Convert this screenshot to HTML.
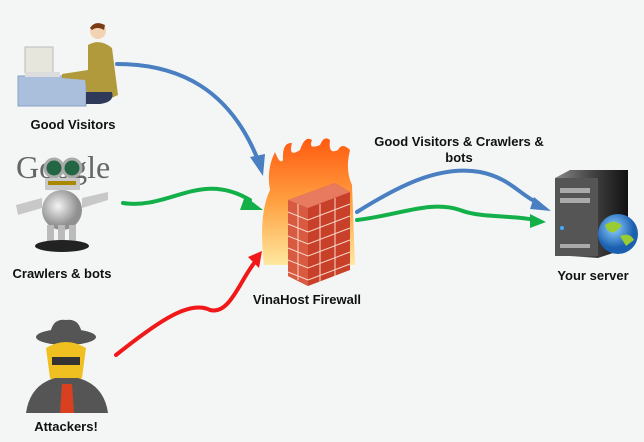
<!DOCTYPE html>
<html><head><meta charset="utf-8"><style>
html,body{margin:0;padding:0;background:#f4f6f6;}
svg{display:block;font-family:"Liberation Sans",Arial,sans-serif;}
</style></head><body>
<svg width="644" height="442" viewBox="0 0 644 442">
<defs>
<linearGradient id="srv" x1="0" x2="1"><stop offset="0" stop-color="#888"/><stop offset="0.5" stop-color="#444"/><stop offset="1" stop-color="#111"/></linearGradient>
<radialGradient id="glb" cx="0.4" cy="0.35"><stop offset="0" stop-color="#8fd0ff"/><stop offset="1" stop-color="#1a5fb0"/></radialGradient>
<linearGradient id="fl" x1="0" y1="1" x2="0" y2="0"><stop offset="0" stop-color="#ffe8a0"/><stop offset="0.5" stop-color="#ffa040"/><stop offset="1" stop-color="#ff5a10"/></linearGradient>
<radialGradient id="rb" cx="0.4" cy="0.4"><stop offset="0" stop-color="#f4f4f4"/><stop offset="1" stop-color="#909090"/></radialGradient>
</defs>
<!-- good visitor -->
<rect x="18" y="76" width="68" height="30" fill="#a9bfdc" stroke="#8aa2c4"/>
<rect x="25" y="47" width="28" height="26" fill="#e6e6dc" stroke="#bbb"/>
<rect x="25" y="72" width="35" height="5" fill="#ddd"/>
<circle cx="98" cy="31" r="8" fill="#f4d2b4"/>
<path d="M90 28 Q95 20 105 25 L104 30 Q97 26 92 30Z" fill="#7a3b14"/>
<path d="M88 45 Q100 38 112 48 L118 95 Q105 102 88 100 L85 80 L62 78 L62 74 L88 70Z" fill="#b19a3b"/>
<path d="M86 92 L112 92 Q115 102 100 104 L86 104Z" fill="#2f3a5a"/>
<text x="73" y="129" font-size="13" font-weight="bold" text-anchor="middle" fill="#111">Good Visitors</text>
<!-- google robot -->
<text x="16" y="178" font-size="32" font-family="Liberation Serif,serif" fill="#666">Google</text>
<circle cx="54" cy="168" r="9" fill="#264" stroke="#aaa" stroke-width="3"/>
<circle cx="72" cy="168" r="9" fill="#264" stroke="#aaa" stroke-width="3"/>
<rect x="45" y="178" width="35" height="12" fill="#c9c9c9"/>
<rect x="48" y="181" width="28" height="4" fill="#a80"/>
<ellipse cx="62" cy="210" rx="20" ry="20" fill="url(#rb)"/>
<path d="M16 205 L42 198 L42 208 L18 215Z M82 198 L108 192 L108 200 L82 208Z" fill="#c8c8c8"/>
<rect x="47" y="225" width="7" height="20" fill="#bbb"/><rect x="58" y="225" width="7" height="20" fill="#bbb"/><rect x="69" y="225" width="7" height="20" fill="#bbb"/>
<ellipse cx="62" cy="246" rx="27" ry="6" fill="#222"/>
<text x="62" y="278" font-size="13" font-weight="bold" text-anchor="middle" fill="#111">Crawlers &amp; bots</text>
<!-- attacker -->
<ellipse cx="66" cy="337" rx="30" ry="8" fill="#555"/>
<path d="M50 335 Q52 318 66 320 Q80 318 82 335Z" fill="#555"/>
<path d="M46 348 Q66 336 86 348 L82 378 Q66 392 50 378Z" fill="#f0c020"/>
<rect x="52" y="357" width="28" height="8" fill="#333"/>
<path d="M26 413 Q30 385 55 378 L78 378 Q104 385 108 413Z" fill="#555"/>
<path d="M62 384 L72 384 L74 413 L60 413Z" fill="#d84020"/>
<text x="66" y="431" font-size="13" font-weight="bold" text-anchor="middle" fill="#111">Attackers!</text>
<!-- firewall -->
<path d="M264 265 Q258 215 270 190 Q266 170 275 152 Q280 165 283 160 Q282 142 292 143 Q288 158 300 150 Q305 135 312 140 Q308 150 320 145 Q324 135 330 140 Q328 155 338 150 Q342 142 350 150 Q345 170 352 185 L355 265Z" fill="url(#fl)"/>
<path d="M288 200 L335 183 L350 192 L350 270 L308 286 L288 276Z" fill="#c8402a"/>
<path d="M288 200 L308 208 L308 286 L288 276Z" fill="#d85a40"/>
<path d="M288 200 L335 183 L350 192 L308 208Z" fill="#e87a60"/>
<g stroke="#f8d8c8" stroke-width="1" fill="none">
<path d="M288 212 L308 220 L350 204 M288 224 L308 232 L350 216 M288 236 L308 244 L350 228 M288 248 L308 256 L350 240 M288 260 L308 268 L350 252 M288 272 L308 280 L350 264"/>
<path d="M298 204 L298 280 M320 204 L320 282 M335 198 L335 276"/>
</g>
<text x="307" y="304" font-size="13" font-weight="bold" text-anchor="middle" fill="#111">VinaHost Firewall</text>
<!-- server -->
<path d="M555 178 L570 170 L628 170 L628 248 L598 258 L555 255Z" fill="url(#srv)"/>
<rect x="555" y="178" width="43" height="78" fill="#555"/>
<rect x="560" y="188" width="30" height="5" fill="#aaa"/><rect x="560" y="198" width="30" height="5" fill="#aaa"/><rect x="560" y="244" width="30" height="4" fill="#aaa"/>
<circle cx="562" cy="228" r="2" fill="#4af"/>
<circle cx="618" cy="234" r="20" fill="url(#glb)"/>
<path d="M605 225 Q615 218 622 226 L615 232 Q608 234 605 225Z M620 236 Q630 232 634 240 L626 246Z" fill="#9c3"/>
<text x="593" y="280" font-size="13" font-weight="bold" text-anchor="middle" fill="#111">Your server</text>
<text x="459" y="146" font-size="13" font-weight="bold" text-anchor="middle" fill="#111">Good Visitors &amp; Crawlers &amp;</text>
<text x="459" y="162" font-size="13" font-weight="bold" text-anchor="middle" fill="#111">bots</text>
<!-- arrows -->
<g fill="none" stroke-width="4" stroke-linecap="round">
<path d="M117 64 C180 64 230 90 258 160" stroke="#4a7fc2"/>
<path d="M123 203 C170 210 200 170 250 200" stroke="#13b04a"/>
<path d="M116 355 C160 320 190 300 210 310 C230 315 240 280 255 262" stroke="#f01818"/>
<path d="M357 212 C400 185 440 165 480 172 C510 178 520 195 538 203" stroke="#4a7fc2"/>
<path d="M357 220 C400 215 430 200 460 210 C480 218 510 215 535 220" stroke="#13b04a"/>
</g>
<polygon points="263,176 250,157 265,154" fill="#4a7fc2"/>
<polygon points="263,210 245,196 240,210" fill="#13b04a"/>
<polygon points="262,251 248,257 259,268" fill="#f01818"/>
<polygon points="551,211 534,197 530,209" fill="#4a7fc2"/>
<polygon points="546,222 530,214 530,228" fill="#13b04a"/>
</svg>
</body></html>
